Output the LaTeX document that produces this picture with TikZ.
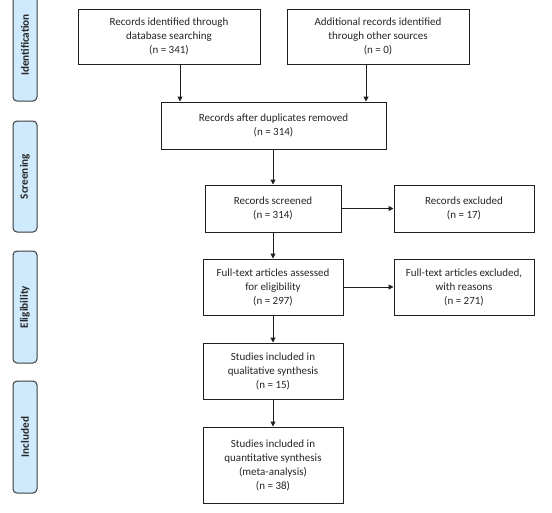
\documentclass[tikz,border=0pt]{standalone}
\usepackage{fontspec}
\setmainfont{Carlito}
\usetikzlibrary{arrows.meta}
\definecolor{barfill}{RGB}{207,234,252}
\definecolor{barline}{RGB}{60,60,60}
\definecolor{boxline}{RGB}{30,30,30}
\tikzset{
  box/.style={draw=boxline, line width=1pt, fill=white, align=center, inner sep=0pt,
    text=black!85, font=\fontsize{11}{14}\selectfont},
  sidebar/.style={draw=barline, line width=1pt, fill=barfill, rounded corners=4pt,
    minimum width=24pt, minimum height=111pt, inner sep=0pt},
  sidelabel/.style={rotate=90, text=black!85, font=\bfseries\fontsize{11.2}{13}\selectfont},
  arr/.style={draw=boxline, line width=1pt, -{Triangle[length=5pt,width=5pt]}}
}
\begin{document}
\begin{tikzpicture}[x=1pt,y=-1pt]
\useasboundingbox (0,0) rectangle (552,512);
% side bars
\node[sidebar, minimum height=112pt] (sid) at (25,45) {};
\node[sidelabel] (lid) at (sid.center) {Identification};
\node[sidebar] (ssc) at (25,176.5) {};
\node[sidelabel] (lsc) at (ssc.center) {Screening};
\node[sidebar, minimum height=112pt] (sel) at (25,307) {};
\node[sidelabel] (lel) at (sel.center) {Eligibility};
\node[sidebar, minimum height=112pt] (sin) at (25,437) {};
\node[sidelabel] (lin) at (sin.center) {Included};
% boxes
\node[box, minimum width=182pt, minimum height=55pt] (b1) at (169,36.5)
  {Records identified through\\database searching\\(n = 341)};
\node[box, minimum width=182pt, minimum height=55pt] (b2) at (378,36.5)
  {Additional records identified\\through other sources\\(n = 0)};
\node[box, minimum width=225pt, minimum height=47pt] (b3) at (273.5,125.5)
  {Records after duplicates removed\\(n = 314)};
\node[box, minimum width=136pt, minimum height=47pt] (b4) at (273,208.5)
  {Records screened\\(n = 314)};
\node[box, minimum width=140pt, minimum height=47pt] (b5) at (464,208.5)
  {Records excluded\\(n = 17)};
\node[box, minimum width=140pt, minimum height=56pt] (b6) at (273,287)
  {Full-text articles assessed\\for eligibility\\(n = 297)};
\node[box, minimum width=140pt, minimum height=56pt] (b7) at (464,287)
  {Full-text articles excluded,\\with reasons\\(n = 271)};
\node[box, minimum width=140pt, minimum height=56pt] (b8) at (273,371)
  {Studies included in\\qualitative synthesis\\(n = 15)};
\node[box, minimum width=140pt, minimum height=76pt] (b9) at (273,465)
  {Studies included in\\quantitative synthesis\\(meta-analysis)\\(n = 38)};
% arrows
\draw[arr] ([xshift=11pt]b1.south) -- ([xshift=11pt]b1.south |- b3.north);
\draw[arr] ([xshift=-12pt]b2.south) -- ([xshift=-12pt]b2.south |- b3.north);
\draw[arr] (b3.south -| b4.north) -- (b4.north);
\draw[arr] (b4.south) -- (b6.north);
\draw[arr] (b6.south) -- (b8.north);
\draw[arr] (b8.south) -- (b9.north);
\draw[arr] (b4.east) -- (b5.west);
\draw[arr] (b6.east) -- (b7.west);
\end{tikzpicture}
\end{document}
